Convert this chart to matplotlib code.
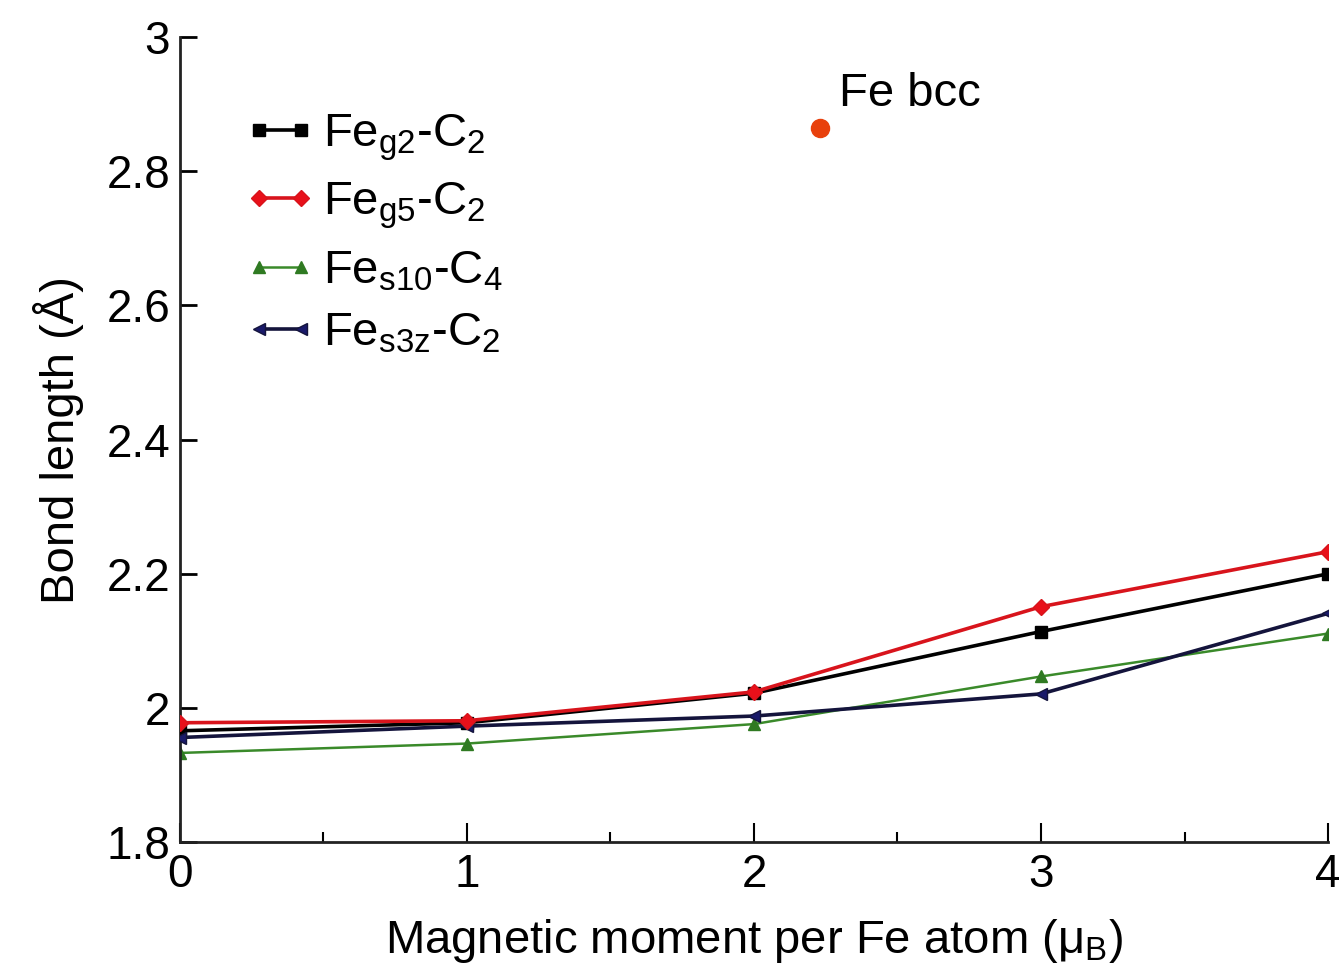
import numpy as np
import matplotlib
matplotlib.use("Agg")
import matplotlib.pyplot as plt
from matplotlib.ticker import MultipleLocator

plt.rcParams['font.family'] = ['Liberation Sans', 'DejaVu Sans']
plt.rcParams['mathtext.fontset'] = 'custom'
plt.rcParams['mathtext.rm'] = 'Liberation Sans'
plt.rcParams['mathtext.it'] = 'Liberation Sans'
plt.rcParams['mathtext.bf'] = 'Liberation Sans:bold'

# magnetic moment per Fe atom (mu_B)
moment = [0, 1, 2, 3, 4]

# bond lengths (Angstrom)
fe_g2_c2 = [1.966, 1.978, 2.022, 2.114, 2.200]
fe_g5_c2 = [1.978, 1.981, 2.024, 2.151, 2.233]
fe_s10_c4 = [1.933, 1.947, 1.976, 2.047, 2.111]
fe_s3z_c2 = [1.956, 1.973, 1.988, 2.021, 2.141]

labels = [r'Fe$_{\rm g2}$-C$_2$', r'Fe$_{\rm g5}$-C$_2$',
          r'Fe$_{\rm s10}$-C$_4$', r'Fe$_{\rm s3z}$-C$_2$']

fe_bcc_moment = 2.23
fe_bcc_length = 2.864

fig = plt.figure(figsize=(13.39, 9.77), dpi=100)
ax = fig.add_axes([0.1344, 0.138, 0.8574, 0.824])

ax.plot(moment, fe_g2_c2, color='black', lw=2.6, marker='s', ms=8,
        mfc='black', mec='black', label=labels[0], zorder=3)
ax.plot(moment, fe_g5_c2, color='#d8141c', lw=2.6, marker='D', ms=8,
        mfc='#e8101a', mec='#d8141c', label=labels[1], zorder=4)
ax.plot(moment, fe_s10_c4, color='#3a8a2a', lw=1.8, marker='^', ms=9,
        mfc='#2f7a22', mec='#2f7a22', label=labels[2], zorder=2)
ax.plot(moment, fe_s3z_c2, color='#14143c', lw=2.6, marker='<', ms=9,
        mfc='#1a1a6a', mec='#14143c', label=labels[3], zorder=3)

# Fe bcc reference point
ax.plot([fe_bcc_moment], [fe_bcc_length], 'o', color='#e8400c', ms=13, zorder=5)
ax.annotate('Fe bcc', (fe_bcc_moment, fe_bcc_length), xytext=(14, 25),
            textcoords='offset points', ha='left', va='center', fontsize=34)

ax.set_xlim(0, 4)
ax.set_ylim(1.8, 3.0)
ax.set_yticks([1.8, 2.0, 2.2, 2.4, 2.6, 2.8, 3.0])
ax.set_yticklabels(['1.8', '2', '2.2', '2.4', '2.6', '2.8', '3'])
ax.xaxis.set_major_locator(MultipleLocator(1))
ax.xaxis.set_minor_locator(MultipleLocator(0.5))

ax.spines['top'].set_visible(False)
ax.spines['right'].set_visible(False)
for s in ['left', 'bottom']:
    ax.spines[s].set_linewidth(2)
    ax.spines[s].set_color('#222222')

ax.tick_params(axis='x', which='major', direction='in', length=14, width=1.5,
               labelsize=33, pad=8)
ax.tick_params(axis='x', which='minor', direction='in', length=7, width=1.5)
ax.tick_params(axis='y', which='major', direction='in', length=12, width=2,
               labelsize=33, pad=7)

ax.set_xlabel(r'Magnetic moment per Fe atom (μ$_{\rm B}$)', fontsize=34, labelpad=14)
ax.set_ylabel('Bond length (Å)', fontsize=34, labelpad=16)

ax.legend(loc='upper left', bbox_to_anchor=(0.04, 0.93), frameon=False,
          fontsize=34, numpoints=2, handlelength=1.5, handletextpad=0.15,
          labelspacing=0.38, borderaxespad=0)

fig.savefig('out.png', dpi=100)
